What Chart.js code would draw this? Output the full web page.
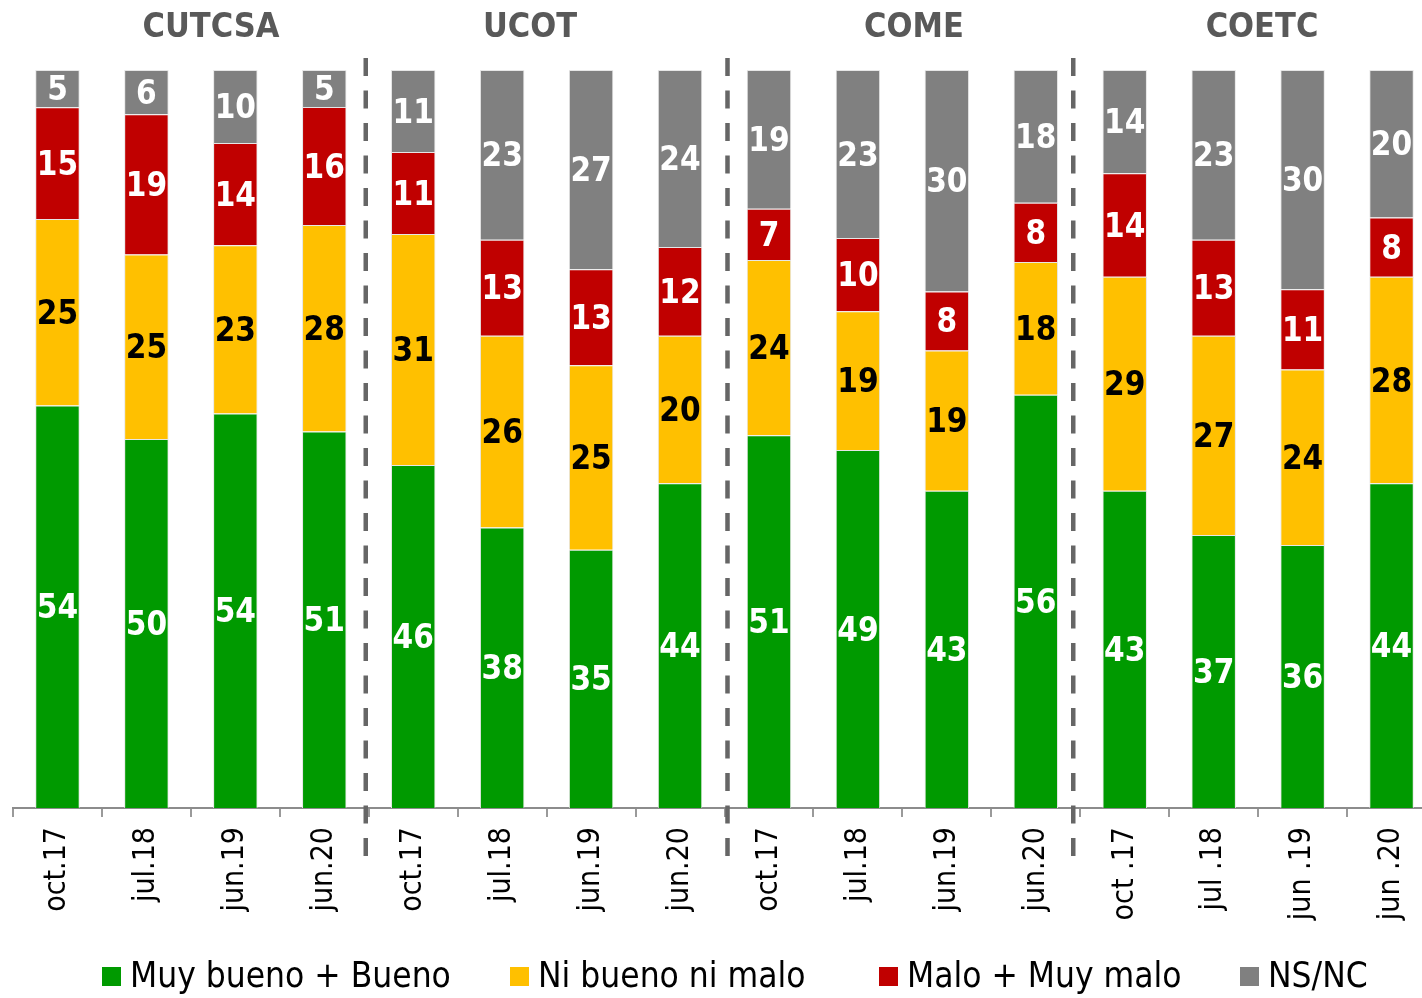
<!DOCTYPE html>
<html>
<head>
<meta charset="utf-8">
<script src="https://cdn.jsdelivr.net/npm/chart.js@4/dist/chart.umd.min.js"></script>
<style>
  html, body { margin: 0; padding: 0; background: #fff; overflow: hidden; }
  #wrap { width: 1440px; height: 998px; overflow: hidden; }
</style>
</head>
<body>
<div id="wrap"><canvas id="c" width="1440" height="998"></canvas></div>
<script>
// ---- Data ----
const categories = ['oct.17','jul.18','jun.19','jun.20',
                    'oct.17','jul.18','jun.19','jun.20',
                    'oct.17','jul.18','jun.19','jun.20',
                    'oct .17','jul .18','jun .19','jun .20'];
const groups = ['CUTCSA','UCOT','COME','COETC'];
const seriesNames = ['Muy bueno + Bueno','Ni bueno ni malo','Malo + Muy malo','NS/NC'];
const muyBueno = [54,50,54,51, 46,38,35,44, 51,49,43,56, 43,37,36,44];
const niBueno  = [25,25,23,28, 31,26,25,20, 24,19,19,18, 29,27,24,28];
const malo     = [15,19,14,16, 11,13,13,12,  7,10, 8, 8, 14,13,11, 8];
const nsnc     = [ 5, 6,10, 5, 11,23,27,24, 19,23,30,18, 14,23,30,20];

const seriesValues = [muyBueno, niBueno, malo, nsnc];
const colors = ['#009A00','#FFC000','#C00000','#808080'];
const labelColors = ['#FFFFFF','#000000','#FFFFFF','#FFFFFF'];

// 100% stacked: normalise each bar by its total
const totals = categories.map((_, i) => seriesValues.reduce((s, arr) => s + arr[i], 0));
const datasets = seriesValues.map((vals, k) => ({
  label: seriesNames[k],
  raw: vals,
  data: vals.map((v, i) => v / totals[i] * 100),
  backgroundColor: colors[k],
  borderColor: '#E6E6E6',
  borderWidth: 1,
  barPercentage: 0.5,
  categoryPercentage: 1.0,
  labelColor: labelColors[k]
}));

const FONT = "'DejaVu Sans Condensed', 'DejaVu Sans', sans-serif";

const decorPlugin = {
  id: 'decor',
  afterDatasetsDraw(chart, args, opts) {
    const ctx = chart.ctx;
    const xs = chart.scales.x;
    // value labels
    ctx.save();
    ctx.font = 'bold 33px ' + FONT;
    ctx.textAlign = 'center';
    ctx.textBaseline = 'middle';
    chart.data.datasets.forEach((ds, di) => {
      const meta = chart.getDatasetMeta(di);
      meta.data.forEach((el, i) => {
        ctx.fillStyle = ds.labelColor;
        ctx.fillText(String(ds.raw[i]), el.x, (el.y + el.base) / 2 + 3);
      });
    });
    ctx.restore();

    // dashed separators between groups
    ctx.save();
    ctx.strokeStyle = '#666666';
    ctx.lineWidth = 4.5;
    ctx.setLineDash([18, 14.5]);
    [3, 7, 11].forEach((idx, k) => {
      const x = (xs.getPixelForValue(idx) + xs.getPixelForValue(idx + 1)) / 2 + opts.sepShift[k];
      ctx.beginPath();
      ctx.moveTo(x, 58);
      ctx.lineTo(x, 862);
      ctx.stroke();
    });
    ctx.restore();

    // group titles
    ctx.save();
    ctx.font = 'bold 34px ' + FONT;
    ctx.fillStyle = '#595959';
    ctx.textAlign = 'center';
    ctx.textBaseline = 'middle';
    groups.forEach((g, gi) => ctx.fillText(g, opts.titleX[gi], 28));
    ctx.restore();

    // legend
    ctx.save();
    ctx.font = '35px ' + FONT;
    ctx.textBaseline = 'middle';
    ctx.textAlign = 'left';
    chart.data.datasets.forEach((ds, k) => {
      const x = opts.legendX[k];
      ctx.fillStyle = ds.backgroundColor;
      ctx.fillRect(x, 967, 19, 19);
      ctx.fillStyle = '#000000';
      ctx.fillText(ds.label, x + 28, 978);
    });
    ctx.restore();
  }
};

new Chart(document.getElementById('c'), {
  type: 'bar',
  data: { labels: categories, datasets },
  options: {
    responsive: false,
    animation: false,
    devicePixelRatio: 1,
    layout: { padding: { left: 13, right: 4, top: 70, bottom: 70 } },
    plugins: {
      legend: { display: false },
      tooltip: { enabled: false },
      decor: { titleX: [211, 530, 914, 1262], legendX: [102, 510, 879, 1240], sepShift: [-3, 3, -7] }
    },
    scales: {
      x: {
        stacked: true,
        afterFit(scale) { scale.height = 120; },
        border: { display: true, color: '#8C8C8C', width: 2 },
        grid: { display: true, drawOnChartArea: false, drawTicks: true, tickLength: 9,
                color: '#9A9A9A', lineWidth: 2, offset: true },
        ticks: { minRotation: 90, maxRotation: 90, autoSkip: false, padding: 10,
                 color: '#000000', font: { family: FONT, size: 30 } }
      },
      y: { stacked: true, display: false, min: 0, max: 100 }
    }
  },
  plugins: [decorPlugin]
});
</script>
</body>
</html>
